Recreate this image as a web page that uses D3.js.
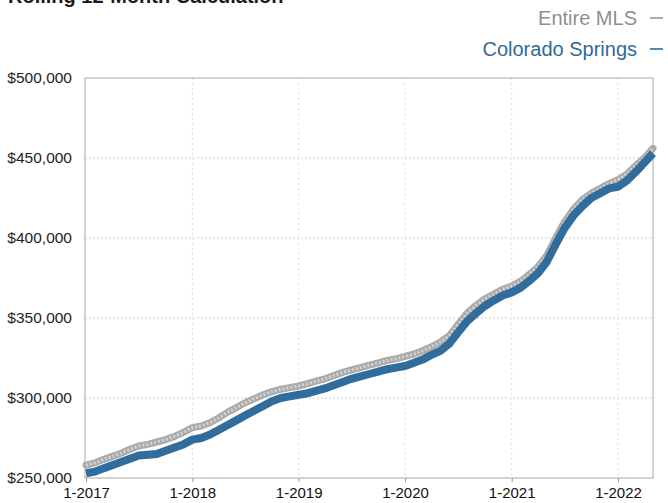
<!DOCTYPE html>
<html>
<head>
<meta charset="utf-8">
<script src="https://cdn.jsdelivr.net/npm/d3@7"></script>
<style>
  html, body { margin: 0; padding: 0; background: #ffffff; }
  svg { display: block; font-family: "Liberation Sans", Arial, Helvetica, sans-serif; }
</style>
</head>
<body>
<svg id="chart" width="668" height="503"></svg>
<script>
// Monthly rolling 12-month median price (thousands of $), Jan 2017 – May 2022
const startMonth = "2017-01";
const entireMLS = [
  258, 259.5, 261.5, 263.5, 265.5, 268, 270, 271, 272.5, 274, 276, 278.5,
  281.5, 282.5, 284.5, 287.5, 291, 294, 297, 299.5, 302, 304, 305.5, 306.5,
  307.5, 309, 310.5, 312, 314, 316, 317.5, 319, 320.5, 322, 323.5, 324.5,
  326, 327.5, 329.5, 332, 335, 339, 346, 353, 358, 362, 365, 368,
  370, 373, 377, 382, 389, 400, 410, 418, 424, 428, 431, 434,
  436.5, 440, 445, 450, 456
];
const coloradoSprings = [
  253, 254, 256, 258, 260, 262, 264, 264.5, 265, 267, 269, 271,
  274, 275, 277, 280, 283, 286, 289, 292, 295, 298, 300, 301,
  302, 303, 304.5, 306, 308, 310, 312, 313.5, 315, 316.5, 318, 319,
  320, 322, 324, 327, 329.5, 334, 341, 348, 353, 357.5, 361, 364,
  366, 369, 373, 378, 385, 396, 406, 414, 420, 425, 428, 431,
  432, 436, 441, 447, 453
];
const yTicks = [250000, 300000, 350000, 400000, 450000, 500000];
const xTickLabels = ["1-2017", "1-2018", "1-2019", "1-2020", "1-2021", "1-2022"];
const seriesNames = ["Entire MLS", "Colorado Springs"];
const titleText = "Rolling 12-Month Calculation";

const parseMonth = d3.timeParse("%Y-%m");
const t0 = parseMonth(startMonth);
const months = entireMLS.map((_, i) => d3.timeMonth.offset(t0, i));

const svg = d3.select("#chart");
const plot = { left: 85, right: 653, top: 78, bottom: 478 };

const x = d3.scaleTime()
  .domain([t0, d3.timeMonth.offset(t0, entireMLS.length - 1)])
  .range([86, plot.right]);
const y = d3.scaleLinear()
  .domain([250000, 500000])
  .range([plot.bottom, plot.top]);

// Title, running off the top edge of the page
svg.append("text")
  .attr("x", 8).attr("y", 3)
  .attr("font-size", 20).attr("font-weight", "bold")
  .attr("fill", "#1a1a1a")
  .text(titleText);

// Legend, right aligned
const legend = [
  { name: seriesNames[0], color: "#8f8f8f", dash: "#9a9a9a", y: 25 },
  { name: seriesNames[1], color: "#2f6a98", dash: "#2f6a98", y: 56 }
];
legend.forEach(l => {
  svg.append("text")
    .attr("x", 637).attr("y", l.y)
    .attr("text-anchor", "end")
    .attr("font-size", 20)
    .attr("fill", l.color)
    .text(l.name);
  svg.append("line")
    .attr("x1", 650).attr("x2", 663)
    .attr("y1", l.y - 7).attr("y2", l.y - 7)
    .attr("stroke", l.dash).attr("stroke-width", 1.6);
});

// Gridlines
const xTickDates = xTickLabels.map(s => {
  const [m, yr] = s.split("-");
  return new Date(+yr, +m - 1, 1);
});
svg.append("g")
  .selectAll("line")
  .data(yTicks.slice(1, -1))
  .join("line")
  .attr("x1", plot.left).attr("x2", plot.right)
  .attr("y1", d => y(d)).attr("y2", d => y(d))
  .attr("stroke", "#cfcfcf").attr("stroke-width", 1)
  .attr("stroke-dasharray", "2,2");
svg.append("g")
  .selectAll("line")
  .data(xTickDates.slice(1))
  .join("line")
  .attr("x1", d => x(d)).attr("x2", d => x(d))
  .attr("y1", plot.top).attr("y2", plot.bottom)
  .attr("stroke", "#dddddd").attr("stroke-width", 1)
  .attr("stroke-dasharray", "2,3");

// Frame
svg.append("rect")
  .attr("x", plot.left).attr("y", plot.top)
  .attr("width", plot.right - plot.left).attr("height", plot.bottom - plot.top)
  .attr("fill", "none").attr("stroke", "#a8a8a8").attr("stroke-width", 1);

// Axes
const yAxis = d3.axisLeft(y)
  .tickValues(yTicks)
  .tickSize(0)
  .tickPadding(13)
  .tickFormat(d => "$" + d3.format(",")(d));
const gy = svg.append("g").attr("transform", `translate(${plot.left},0)`).call(yAxis);
gy.select(".domain").remove();
gy.selectAll("text").attr("font-size", 15.5).attr("fill", "#1e1e1e")
  .attr("font-family", "'Liberation Sans', Arial, sans-serif");

const xAxis = d3.axisBottom(x)
  .tickValues(xTickDates)
  .tickSize(4)
  .tickPadding(5)
  .tickFormat((d, i) => xTickLabels[i]);
const gx = svg.append("g").attr("transform", `translate(0,${plot.bottom})`).call(xAxis);
gx.select(".domain").remove();
gx.selectAll("line").attr("stroke", "#999");
gx.selectAll("text").attr("font-size", 15).attr("fill", "#111")
  .attr("font-family", "'Liberation Sans', Arial, sans-serif");

// Series lines
const line = d3.line()
  .x((d, i) => x(months[i]))
  .y(d => y(d * 1000))
  .curve(d3.curveLinear);

svg.append("path").datum(entireMLS)
  .attr("d", line).attr("fill", "none")
  .attr("stroke", "#aaaaaa").attr("stroke-width", 7)
  .attr("stroke-linejoin", "round").attr("stroke-linecap", "round");
svg.append("path").datum(entireMLS)
  .attr("d", line).attr("fill", "none")
  .attr("stroke", "#d4d4d4").attr("stroke-width", 3)
  .attr("stroke-dasharray", "2,2");

svg.append("path").datum(coloradoSprings)
  .attr("d", line).attr("fill", "none")
  .attr("stroke", "#306c9c").attr("stroke-width", 8)
  .attr("stroke-linejoin", "round").attr("stroke-linecap", "butt");
</script>
</body>
</html>
